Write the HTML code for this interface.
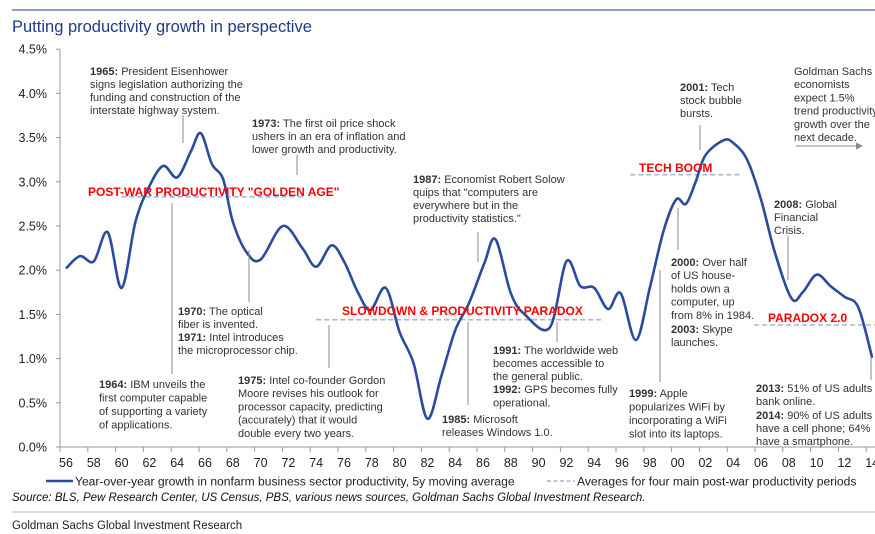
<!DOCTYPE html>
<html><head><meta charset="utf-8"><style>
body{margin:0;background:#fff;}
svg{display:block;font-family:"Liberation Sans",Arial,sans-serif;}
.a{font-size:11px;fill:#333;}
.a tspan.b{font-weight:bold;}
.r{font-size:12px;font-weight:bold;fill:#f00;}
.t{font-size:12.1px;fill:#222;}
</style></head><body>
<svg id="c" width="875" height="534" viewBox="0 0 875 534">
<line x1="12" y1="10" x2="875" y2="10" stroke="#8fa0cc" stroke-width="2"/>
<text x="12" y="32" font-size="16.5" fill="#1f3a8a">Putting productivity growth in perspective</text>
<g id="axes"></g>
<g id="avgs"></g>
<path id="series" fill="none" stroke="#2b4ba0" stroke-width="2.6" stroke-linejoin="round"/>
<g>
<text class="r" x="88" y="196">POST-WAR PRODUCTIVITY "GOLDEN AGE"</text>
<text class="r" x="342" y="315">SLOWDOWN &amp; PRODUCTIVITY PARADOX</text>
<text class="r" x="639" y="172">TECH BOOM</text>
<text class="r" x="768" y="322">PARADOX 2.0</text>
</g>
<g stroke="#888" stroke-width="1">
<line x1="183" y1="115" x2="183" y2="143"/><line x1="297" y1="155" x2="297" y2="175"/>
<line x1="478" y1="232" x2="478" y2="262"/><line x1="249" y1="250" x2="249" y2="302"/>
<line x1="172" y1="203" x2="172" y2="374"/><line x1="329" y1="325" x2="329" y2="368"/>
<line x1="468" y1="322" x2="468" y2="405"/><line x1="557" y1="322" x2="557" y2="342"/>
<line x1="660" y1="270" x2="660" y2="382"/><line x1="678" y1="208" x2="678" y2="250"/>
<line x1="700" y1="125" x2="700" y2="150"/><line x1="788" y1="236" x2="788" y2="280"/>
<line x1="871" y1="358" x2="871" y2="380"/>
</g>
<g>
<text class="a" x="90" y="75"><tspan class="b">1965:</tspan> President Eisenhower<tspan x="90" dy="13">signs legislation authorizing the</tspan><tspan x="90" dy="13">funding and construction of the</tspan><tspan x="90" dy="13">interstate highway system.</tspan></text>
<text class="a" x="252" y="127"><tspan class="b">1973:</tspan> The first oil price shock<tspan x="252" dy="13">ushers in an era of inflation and</tspan><tspan x="252" dy="13">lower growth and productivity.</tspan></text>
<text class="a" x="413" y="183"><tspan class="b">1987:</tspan> Economist Robert Solow<tspan x="413" dy="13">quips that "computers are</tspan><tspan x="413" dy="13">everywhere but in the</tspan><tspan x="413" dy="13">productivity statistics."</tspan></text>
<text class="a" x="178" y="315"><tspan class="b">1970:</tspan> The optical<tspan x="178" dy="13">fiber is invented.</tspan><tspan x="178" dy="13" class="b">1971:</tspan><tspan> Intel introduces</tspan><tspan x="178" dy="13">the microprocessor chip.</tspan></text>
<text class="a" x="99" y="388"><tspan class="b">1964:</tspan> IBM unveils the<tspan x="99" dy="13.5">first computer capable</tspan><tspan x="99" dy="13.5">of supporting a variety</tspan><tspan x="99" dy="13.5">of applications.</tspan></text>
<text class="a" x="238" y="384"><tspan class="b">1975:</tspan> Intel co-founder Gordon<tspan x="238" dy="13.2">Moore revises his outlook for</tspan><tspan x="238" dy="13.2">processor capacity, predicting</tspan><tspan x="238" dy="13.2">(accurately) that it would</tspan><tspan x="238" dy="13.2">double every two years.</tspan></text>
<text class="a" x="442" y="423"><tspan class="b">1985:</tspan> Microsoft<tspan x="442" dy="13">releases Windows 1.0.</tspan></text>
<text class="a" x="493" y="354"><tspan class="b">1991:</tspan> The worldwide web<tspan x="493" dy="13">becomes accessible to</tspan><tspan x="493" dy="13">the general public.</tspan><tspan x="493" dy="13" class="b">1992:</tspan><tspan> GPS becomes fully</tspan><tspan x="493" dy="13.5">operational.</tspan></text>
<text class="a" x="629" y="397"><tspan class="b">1999:</tspan> Apple<tspan x="629" dy="13.5">popularizes WiFi by</tspan><tspan x="629" dy="13.5">incorporating a WiFi</tspan><tspan x="629" dy="13.5">slot into its laptops.</tspan></text>
<text class="a" x="671" y="266"><tspan class="b">2000:</tspan> Over half<tspan x="671" dy="13.2">of US house-</tspan><tspan x="671" dy="13.2">holds own a</tspan><tspan x="671" dy="13.2">computer, up</tspan><tspan x="671" dy="13.2">from 8% in 1984.</tspan><tspan x="671" dy="14" class="b">2003:</tspan><tspan> Skype</tspan><tspan x="671" dy="13">launches.</tspan></text>
<text class="a" x="680" y="91"><tspan class="b">2001:</tspan> Tech<tspan x="680" dy="13">stock bubble</tspan><tspan x="680" dy="13">bursts.</tspan></text>
<text class="a" x="794" y="75">Goldman Sachs<tspan x="794" dy="13.2">economists</tspan><tspan x="794" dy="13.2">expect 1.5%</tspan><tspan x="794" dy="13.2">trend productivity</tspan><tspan x="794" dy="13.2">growth over the</tspan><tspan x="794" dy="13.2">next decade.</tspan></text>
<text class="a" x="774" y="208"><tspan class="b">2008:</tspan> Global<tspan x="774" dy="13">Financial</tspan><tspan x="774" dy="13">Crisis.</tspan></text>
<text class="a" x="756" y="392"><tspan class="b">2013:</tspan> 51% of US adults<tspan x="756" dy="13">bank online.</tspan><tspan x="756" dy="14" class="b">2014:</tspan><tspan> 90% of US adults</tspan><tspan x="756" dy="13">have a cell phone; 64%</tspan><tspan x="756" dy="13">have a smartphone.</tspan></text>
</g>
<g>
<line x1="796" y1="146" x2="856" y2="146" stroke="#888" stroke-width="1"/><polygon points="856,142.5 863,146 856,149.5" fill="#888"/>
</g>
<g>
<line x1="46" y1="481" x2="73" y2="481" stroke="#2b4ba0" stroke-width="2.6"/>
<text class="t" x="75" y="485.5">Year-over-year growth in nonfarm business sector productivity, 5y moving average</text>
<line x1="547" y1="481" x2="575" y2="481" stroke="#a9b6d6" stroke-width="1.5" stroke-dasharray="4,2.5"/>
<text class="t" x="577" y="485.5">Averages for four main post-war productivity periods</text>
</g>
<text x="12" y="501" font-size="11.5" font-style="italic" fill="#111">Source: BLS, Pew Research Center, US Census, PBS, various news sources, Goldman Sachs Global Investment Research.</text>
<line x1="12" y1="512" x2="875" y2="512" stroke="#a9b6d6" stroke-width="1"/>
<text x="12" y="529" font-size="11.5" fill="#222">Goldman Sachs Global Investment Research</text>
</svg>
<script>
const years=[1956,1957,1958,1959,1960,1961,1962,1963,1964,1965,1965.7,1966.5,1967.3,1968,1969,1970,1971.6,1973,1974,1975.1,1976,1977,1977.9,1979,1980,1981,1982,1983,1984,1985,1986.1,1986.9,1988,1989,1990.8,1992,1993,1994,1995,1995.9,1997,1998,1999,1999.9,2000.6,2001.3,2002,2003.3,2004,2005,2006,2007,2008.2,2009,2010,2011,2012,2013,2014];
const values=[2.02,2.16,2.10,2.43,1.80,2.55,2.95,3.18,3.05,3.35,3.55,3.2,3.03,2.55,2.2,2.12,2.5,2.25,2.04,2.28,2.1,1.75,1.55,1.8,1.3,0.95,0.32,0.8,1.32,1.63,2.08,2.35,1.74,1.5,1.35,2.1,1.82,1.8,1.56,1.74,1.21,1.8,2.45,2.8,2.75,3.0,3.3,3.47,3.44,3.25,2.8,2.2,1.68,1.75,1.95,1.82,1.7,1.58,1.01];
const periodStart=[1960,1974,1996.6,2005.5];
const periodEnd=[1973.2,1994.5,2004.6,2014.2];
const periodAvg=[2.83,1.44,3.08,1.38];
const yTicks=[0,0.5,1,1.5,2,2.5,3,3.5,4,4.5];
const xTickYears=[1956,1958,1960,1962,1964,1966,1968,1970,1972,1974,1976,1978,1980,1982,1984,1986,1988,1990,1992,1994,1996,1998,2000,2002,2004,2006,2008,2010,2012,2014];
const X=y=>66+(y-1956)*13.9;
const Y=v=>447-v*88.4;
const NS='http://www.w3.org/2000/svg';
function mk(tag,at,parent){const e=document.createElementNS(NS,tag);for(const k in at)e.setAttribute(k,at[k]);parent.appendChild(e);return e;}
const ax=document.getElementById('axes');
let l=mk('line',{x1:60,y1:Y(4.5),x2:60,y2:447,stroke:'#999'},ax);


l=mk('line',{x1:60,y1:447,x2:875,y2:447,stroke:'#999'},ax);


yTicks.forEach(v=>{
 mk('line',{x1:56,y1:Y(v),x2:60,y2:Y(v),stroke:'#999'},ax);
 const t=mk('text',{x:47,y:Y(v)+4.5,'text-anchor':'end','font-size':12.5,fill:'#222'},ax);
 t.textContent=v.toFixed(1)+'%';
 
 
});
xTickYears.forEach(yr=>{
 mk('line',{x1:X(yr)-6,y1:447,x2:X(yr)-6,y2:452,stroke:'#999'},ax);
 const t=mk('text',{x:X(yr),y:467,'text-anchor':'middle','font-size':12.5,fill:'#222'},ax);
 t.textContent=String(yr%100).padStart(2,'0');
 
 
});
const ag=document.getElementById('avgs');
periodAvg.forEach((v,i)=>{
 const d=mk('line',{x1:X(periodStart[i]),y1:Y(v),x2:Math.min(875,X(periodEnd[i])),y2:Y(v),stroke:'#a9b6d6','stroke-width':1.6,'stroke-dasharray':'5,3'},ag);
 
 
});
const pts=years.map((y,i)=>[X(y),Y(values[i])]);
let d='M'+pts[0][0]+','+pts[0][1];
for(let i=0;i<pts.length-1;i++){
 const p0=pts[Math.max(0,i-1)],p1=pts[i],p2=pts[i+1],p3=pts[Math.min(pts.length-1,i+2)];
 const c1=[p1[0]+(p2[0]-p0[0])/6,p1[1]+(p2[1]-p0[1])/6];
 const c2=[p2[0]-(p3[0]-p1[0])/6,p2[1]-(p3[1]-p1[1])/6];
 d+=' C'+c1[0].toFixed(1)+','+c1[1].toFixed(1)+' '+c2[0].toFixed(1)+','+c2[1].toFixed(1)+' '+p2[0].toFixed(1)+','+p2[1].toFixed(1);
}
document.getElementById('series').setAttribute('d',d);
</script>
</body></html>
